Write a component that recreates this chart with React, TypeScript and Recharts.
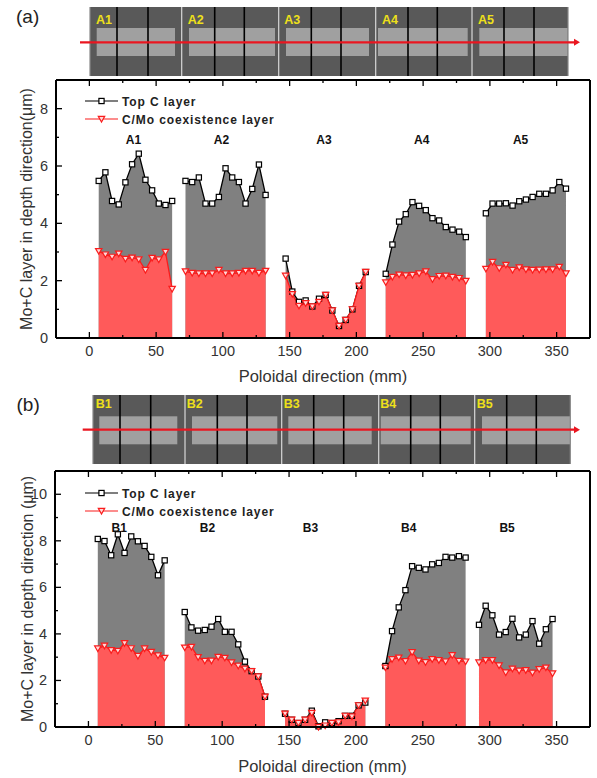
import React from 'react';
import { AreaChart, Area, XAxis, YAxis, Legend, ReferenceDot } from 'recharts';

const FONT = '"Liberation Sans", Arial, sans-serif';

// panel (a) values, one group per tile
const a1X = [7, 12, 17, 22, 27, 32, 37, 42, 47, 52, 57, 62];
const a1Top = [5.48, 5.78, 4.78, 4.66, 5.43, 6.06, 6.43, 5.52, 5.15, 4.69, 4.64, 4.78];
const a1Mix = [3.03, 2.91, 2.83, 2.94, 2.76, 2.8, 2.74, 2.37, 2.79, 2.74, 3.0, 1.71];
const a2X = [72, 77, 82, 87, 92, 97, 102, 107, 112, 117, 122, 127, 132];
const a2Top = [5.48, 5.44, 5.6, 4.69, 4.69, 4.92, 5.92, 5.6, 5.44, 4.69, 5.2, 6.05, 4.99];
const a2Mix = [2.32, 2.27, 2.25, 2.25, 2.25, 2.37, 2.25, 2.25, 2.27, 2.34, 2.34, 2.27, 2.34];
const a3X = [147, 152, 157, 162, 167, 172, 177, 182, 187, 192, 197, 202, 207];
const a3Top = [2.77, 1.62, 1.26, 1.31, 1.1, 1.37, 1.5, 0.96, 0.42, 0.63, 1.0, 1.82, 2.3];
const a3Mix = [2.17, 1.53, 1.12, 1.21, 1.1, 1.26, 1.5, 0.96, 0.42, 0.63, 1.0, 1.82, 2.3];
const a4X = [222, 227, 232, 237, 242, 247, 252, 257, 262, 267, 272, 277, 282];
const a4Top = [2.24, 3.26, 4.06, 4.32, 4.74, 4.61, 4.46, 4.18, 4.1, 3.87, 3.78, 3.71, 3.52];
const a4Mix = [1.94, 2.13, 2.21, 2.18, 2.2, 2.25, 2.32, 2.05, 2.16, 2.17, 2.13, 2.09, 1.99];
const a5X = [297, 302, 307, 312, 317, 322, 327, 332, 337, 342, 347, 352, 357];
const a5Top = [4.35, 4.69, 4.69, 4.7, 4.62, 4.77, 4.83, 4.92, 5.03, 5.03, 5.15, 5.44, 5.21];
const a5Mix = [2.41, 2.65, 2.43, 2.55, 2.37, 2.46, 2.39, 2.37, 2.38, 2.39, 2.39, 2.48, 2.25];

// panel (b) values
const b1X = [7, 12, 17, 22, 27, 32, 37, 42, 47, 52, 57];
const b1Top = [8.08, 7.99, 7.38, 8.28, 7.48, 8.19, 7.98, 7.78, 7.31, 6.52, 7.16];
const b1Mix = [3.37, 3.49, 3.3, 3.27, 3.6, 3.38, 3.05, 3.37, 3.22, 3.07, 2.97];
const b2X = [72, 77, 82, 87, 92, 97, 102, 107, 112, 117, 122, 127, 132];
const b2Top = [4.94, 4.28, 4.14, 4.17, 4.31, 4.64, 4.09, 4.09, 3.55, 2.81, 2.4, 2.17, 1.3];
const b2Mix = [3.41, 3.44, 3.0, 2.84, 2.85, 3.01, 2.97, 2.77, 2.63, 2.5, 2.4, 2.17, 1.3];
const b3X = [147, 152, 157, 162, 167, 172, 177, 182, 187, 192, 197, 202, 207];
const b3Top = [0.57, 0.31, 0.17, 0.31, 0.7, 0.03, 0.2, 0.17, 0.25, 0.48, 0.48, 0.93, 1.05];
const b3Mix = [0.57, 0.31, 0.17, 0.31, 0.6, 0.0, 0.06, 0.17, 0.2, 0.48, 0.45, 0.93, 1.13];
const b4X = [222, 227, 232, 237, 242, 247, 252, 257, 262, 267, 272, 277, 282];
const b4Top = [2.62, 4.12, 5.14, 5.88, 6.91, 6.84, 6.77, 6.99, 7.05, 7.31, 7.28, 7.34, 7.28];
const b4Mix = [2.55, 2.91, 2.98, 2.83, 3.21, 2.85, 2.78, 2.91, 2.87, 2.81, 3.08, 2.84, 2.81];
const b5X = [292, 297, 302, 307, 312, 317, 322, 327, 332, 337, 342, 347];
const b5Top = [4.39, 5.21, 4.8, 3.97, 4.08, 4.65, 3.85, 3.97, 4.55, 3.58, 4.2, 4.64];
const b5Mix = [2.77, 2.87, 2.87, 2.64, 2.34, 2.5, 2.42, 2.44, 2.33, 2.48, 2.55, 2.3];

const xTicks = [0, 25, 50, 75, 100, 125, 150, 175, 200, 225, 250, 275, 300, 325, 350];
const xLabelled = [0, 50, 100, 150, 200, 250, 300, 350];
const aYTicks = [0, 1, 2, 3, 4, 5, 6, 7, 8, 9];
const bYTicks = [0, 1, 2, 3, 4, 5, 6, 7, 8, 9, 10, 11];
const yLabelled = [0, 2, 4, 6, 8, 10];

const aTileNames = ['A1', 'A2', 'A3', 'A4', 'A5'];
const aNameX = [33, 99, 175.7, 249, 323];
const bTileNames = ['B1', 'B2', 'B3', 'B4', 'B5'];
const bNameX = [23, 89, 166, 239.5, 313];

// one row per x, plus an empty row after each tile so the area breaks
const buildRows = (groups: number[][][]) => {
  const rows: any[] = [];
  groups.forEach(([xs, top, mix]) => {
    xs.forEach((x, i) => rows.push({ x, top: top[i], mix: mix[i] }));
    rows.push({ x: xs[xs.length - 1] + 1, top: null, mix: null });
  });
  return rows;
};

const aRows = buildRows([
  [a1X, a1Top, a1Mix],
  [a2X, a2Top, a2Mix],
  [a3X, a3Top, a3Mix],
  [a4X, a4Top, a4Mix],
  [a5X, a5Top, a5Mix],
]);
const bRows = buildRows([
  [b1X, b1Top, b1Mix],
  [b2X, b2Top, b2Mix],
  [b3X, b3Top, b3Mix],
  [b4X, b4Top, b4Mix],
  [b5X, b5Top, b5Mix],
]);

const SquareDot = (props: any) => {
  const { cx, cy, key } = props;
  if (cx == null || cy == null) return null;
  return <rect key={key} x={cx - 2.6} y={cy - 2.6} width={5.2} height={5.2} fill="#fff" stroke="#000" strokeWidth={1.2} />;
};

const TriangleDot = (props: any) => {
  const { cx, cy, key } = props;
  if (cx == null || cy == null) return null;
  return (
    <path
      key={key}
      d={`M${cx - 3.2},${cy - 2.6}L${cx + 3.2},${cy - 2.6}L${cx},${cy + 3}Z`}
      fill="#ffd8d8"
      stroke="#fa1c1c"
      strokeWidth={1.2}
    />
  );
};

const BottomTick = ({ x, y, payload }: any) => {
  const major = xLabelled.includes(payload.value);
  return (
    <g>
      <line x1={x} x2={x} y1={y} y2={y - (major ? 6 : 3)} stroke="#000" strokeWidth={1.3} />
      {major && (
        <text x={x} y={y + 18} textAnchor="middle" fontSize={14.5} fontFamily={FONT} fill="#333">
          {payload.value}
        </text>
      )}
    </g>
  );
};

const TopTick = ({ x, y, payload }: any) => (
  <line x1={x} x2={x} y1={y} y2={y + (xLabelled.includes(payload.value) ? 6 : 3)} stroke="#000" strokeWidth={1.3} />
);

const LeftTick = ({ x, y, payload }: any) => {
  const major = yLabelled.includes(payload.value);
  return (
    <g>
      <line x1={x} x2={x + (major ? 6 : 3)} y1={y} y2={y} stroke="#000" strokeWidth={1.3} />
      {major && (
        <text x={x - 8} y={y + 5} textAnchor="end" fontSize={14.5} fontFamily={FONT} fill="#333">
          {payload.value}
        </text>
      )}
    </g>
  );
};

const RightTick = ({ x, y, payload }: any) => (
  <line x1={x} x2={x - (yLabelled.includes(payload.value) ? 6 : 3)} y1={y} y2={y} stroke="#000" strokeWidth={1.3} />
);

const renderLegend = ({ payload }: any) => (
  <svg width={250} height={40} style={{ display: 'block' }}>
    {(payload || []).map((entry: any, i: number) => (
      <g key={entry.value} transform={`translate(0,${9 + i * 18})`}>
        <line x1={0} x2={33} y1={0} y2={0} stroke={entry.color} strokeWidth={1.2} />
        {i === 0 ? <SquareDot cx={16.5} cy={0} /> : <TriangleDot cx={16.5} cy={0} />}
        <text x={37} y={4.5} fontSize={12} fontWeight="bold" fontFamily={FONT} letterSpacing={0.9} fill="#222">
          {entry.value}
        </text>
      </g>
    ))}
  </svg>
);

type PanelProps = {
  top: number;
  height: number;
  plotTop: number;
  plotBottom: number;
  leftWidth: number;
  rows: any[];
  yMax: number;
  yTicks: number[];
  yTitle: string;
  yTitleOffset: number;
  xTitleOffset: number;
  tileNames: string[];
  nameX: number[];
  nameY: number;
  legendTop: number;
};

function Panel(p: PanelProps) {
  return (
    <div style={{ position: 'absolute', left: 0, top: p.top }}>
      <AreaChart width={597} height={p.height} data={p.rows} margin={{ top: 0, right: 0, bottom: 0, left: 0 }}>
        <Legend
          layout="vertical"
          align="center"
          verticalAlign="middle"
          itemSorter={null}
          content={renderLegend}
          wrapperStyle={{ left: 85, top: p.legendTop, width: 250, height: 40 }}
        />
        <Area
          dataKey="top"
          name="Top C layer"
          type="linear"
          stroke="#000"
          strokeWidth={1.3}
          fill="#808080"
          fillOpacity={1}
          dot={SquareDot}
          activeDot={false}
          isAnimationActive={false}
        />
        <Area
          dataKey="mix"
          name="C/Mo coexistence layer"
          type="linear"
          stroke="#fa1c1c"
          strokeWidth={1.3}
          fill="#ff5a5a"
          fillOpacity={1}
          dot={TriangleDot}
          activeDot={false}
          isAnimationActive={false}
        />
        {/* zIndex keeps the inward ticks on top of the fill */}
        <XAxis
          dataKey="x"
          type="number"
          domain={[-25, 375]}
          ticks={xTicks}
          interval={0}
          height={p.height - p.plotBottom}
          tickSize={0}
          tickMargin={0}
          tick={BottomTick}
          zIndex={1000}
          axisLine={{ stroke: '#000', strokeWidth: 2 }}
          label={{
            value: 'Poloidal direction (mm)',
            position: 'insideBottom',
            offset: p.xTitleOffset,
            fontSize: 16.5,
            fontFamily: FONT,
            fill: '#333',
          }}
        />
        <XAxis
          xAxisId="top"
          orientation="top"
          dataKey="x"
          type="number"
          domain={[-25, 375]}
          ticks={xTicks}
          interval={0}
          height={p.plotTop}
          tickSize={0}
          tickMargin={0}
          tick={TopTick}
          axisLine={{ stroke: '#000', strokeWidth: 2 }}
        />
        <YAxis
          type="number"
          domain={[0, p.yMax]}
          ticks={p.yTicks}
          interval={0}
          width={p.leftWidth}
          tickSize={0}
          tickMargin={0}
          tick={LeftTick}
          axisLine={{ stroke: '#000', strokeWidth: 2 }}
          label={{
            value: p.yTitle,
            angle: -90,
            position: 'insideLeft',
            offset: p.yTitleOffset,
            textAnchor: 'middle',
            fontSize: 16,
            fontFamily: FONT,
            fill: '#333',
          }}
        />
        <YAxis
          yAxisId="right"
          orientation="right"
          type="number"
          domain={[0, p.yMax]}
          ticks={p.yTicks}
          interval={0}
          width={7}
          tickSize={0}
          tickMargin={0}
          tick={RightTick}
          axisLine={{ stroke: '#000', strokeWidth: 2 }}
        />
        {p.tileNames.map((name, i) => (
          <ReferenceDot
            key={name}
            x={p.nameX[i]}
            y={p.nameY}
            r={0}
            fill="none"
            stroke="none"
            label={{
              value: name,
              position: 'center',
              fontSize: 12,
              fontWeight: 'bold',
              fontFamily: FONT,
              fill: '#111',
            }}
          />
        ))}
      </AreaChart>
    </div>
  );
}

type StripProps = {
  y0: number;
  y1: number;
  bandY0: number;
  bandY1: number;
  lineY: number;
  lineX0: number;
  lineX1: number;
  edges: number[];
  splits: number[];
  bands: number[][];
  names: string[];
  nameX: number[];
  nameY: number;
};

// photo strip above each panel, not data
function Strip(s: StripProps) {
  return (
    <g>
      <rect x={s.edges[0]} y={s.y0} width={s.edges[s.edges.length - 1] - s.edges[0]} height={s.y1 - s.y0} fill="#595959" />
      {s.bands.map(([x0, x1]) => (
        <rect key={x0} x={x0} y={s.bandY0} width={x1 - x0} height={s.bandY1 - s.bandY0} fill="#a0a0a0" />
      ))}
      {s.edges.map((x, i) => (
        <line key={x} x1={x} x2={x} y1={s.y0} y2={s.y1} stroke={i === 0 || i === s.edges.length - 1 ? '#888' : '#d8d8d8'} strokeWidth={1.2} />
      ))}
      {s.splits.map((x) => (
        <line key={x} x1={x} x2={x} y1={s.y0} y2={s.y1} stroke="#000" strokeWidth={1.6} />
      ))}
      {s.names.map((name, i) => (
        <text key={name} x={s.nameX[i]} y={s.nameY} fontSize={12.5} fontWeight="bold" fontFamily={FONT} fill="#eee01a">
          {name}
        </text>
      ))}
      <line x1={s.lineX0} x2={s.lineX1 - 5} y1={s.lineY} y2={s.lineY} stroke="#ea1620" strokeWidth={2.2} />
      <path d={`M${s.lineX1 - 6},${s.lineY - 3.5}L${s.lineX1},${s.lineY}L${s.lineX1 - 6},${s.lineY + 3.5}Z`} fill="#ea1620" />
    </g>
  );
}

export default function App() {
  return (
    <div style={{ position: 'absolute', left: 0, top: 0, width: 597, height: 778, background: '#fff', fontFamily: FONT }}>
      <Panel
        top={0}
        height={390}
        plotTop={80}
        plotBottom={338}
        leftWidth={56}
        rows={aRows}
        yMax={9}
        yTicks={aYTicks}
        yTitle="Mo+C layer in depth direction(μm)"
        yTitleOffset={26}
        xTitleOffset={8}
        tileNames={aTileNames}
        nameX={aNameX}
        nameY={6.9}
        legendTop={92}
      />
      <Panel
        top={390}
        height={388}
        plotTop={81}
        plotBottom={337}
        leftWidth={55}
        rows={bRows}
        yMax={11}
        yTicks={bYTicks}
        yTitle="Mo+C layer in depth direction (μm)"
        yTitleOffset={27}
        xTitleOffset={6}
        tileNames={bTileNames}
        nameX={bNameX}
        nameY={8.57}
        legendTop={94}
      />
      <svg width={597} height={778} style={{ position: 'absolute', left: 0, top: 0, pointerEvents: 'none' }}>
        <text x={16} y={23} fontSize={19} fontFamily={FONT} fill="#222">(a)</text>
        <text x={16.5} y={411} fontSize={19} fontFamily={FONT} fill="#222">(b)</text>
        <Strip
          y0={7}
          y1={76}
          bandY0={28}
          bandY1={56}
          lineY={42.3}
          lineX0={80}
          lineX1={580}
          edges={[90, 181.7, 278.7, 375.7, 472, 568]}
          splits={[117, 148, 214.7, 244.3, 311.3, 341, 408, 437.3, 504, 534]}
          bands={[[96.7, 175], [189, 275], [286, 369], [378, 467.7], [479.3, 567.7]]}
          names={aTileNames}
          nameX={[96, 187.7, 284.3, 382, 478]}
          nameY={24}
        />
        <Strip
          y0={395}
          y1={464}
          bandY0={416.3}
          bandY1={444.3}
          lineY={429.7}
          lineX0={82.7}
          lineX1={580}
          edges={[93, 185, 281.7, 378.7, 474.7, 570.3]}
          splits={[120, 150.7, 217.3, 247, 313.7, 343.7, 410.7, 440.3, 506.7, 536.3]}
          bands={[[99.3, 177.3], [192, 277.3], [288.3, 371.7], [380.7, 470.7], [482, 570.3]]}
          names={bTileNames}
          nameX={[95.7, 186.7, 283.7, 380.3, 476.7]}
          nameY={408}
        />
      </svg>
    </div>
  );
}
